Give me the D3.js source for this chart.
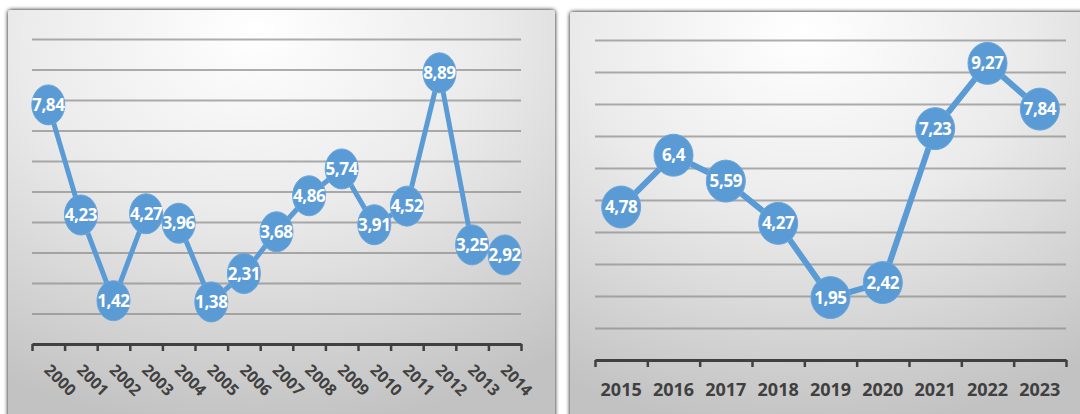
<!DOCTYPE html>
<html>
<head>
<meta charset="utf-8">
<script src="https://cdn.jsdelivr.net/npm/d3@7"></script>
<style>
  body { margin: 0; background: #fff; }
  svg { display: block; }
</style>
</head>
<body>
<div id="chart"></div>
<script>
// data
var years1 = ["2000", "2001", "2002", "2003", "2004", "2005", "2006", "2007", "2008", "2009", "2010", "2011", "2012", "2013", "2014"];
var values1 = [7.84, 4.23, 1.42, 4.27, 3.96, 1.38, 2.31, 3.68, 4.86, 5.74, 3.91, 4.52, 8.89, 3.25, 2.92];

var years2 = ["2015", "2016", "2017", "2018", "2019", "2020", "2021", "2022", "2023"];
var values2 = [4.78, 6.4, 5.59, 4.27, 1.95, 2.42, 7.23, 9.27, 7.84];

var gridValues = [1, 2, 3, 4, 5, 6, 7, 8, 9, 10];

var W = 1080, H = 414;
var blue = "#5b9bd5";

var svg = d3.select("#chart")
    .append("svg")
    .attr("width", W)
    .attr("height", H);

var defs = svg.append("defs");

var bg = defs.append("radialGradient")
    .attr("id", "panelBg")
    .attr("cx", "45%")
    .attr("cy", "5%")
    .attr("r", "95%");
bg.append("stop").attr("offset", "0%").attr("stop-color", "#ffffff");
bg.append("stop").attr("offset", "45%").attr("stop-color", "#ebebeb");
bg.append("stop").attr("offset", "100%").attr("stop-color", "#c2c2c2");

var shadow = defs.append("filter")
    .attr("id", "shadow")
    .attr("x", "-5%").attr("y", "-5%")
    .attr("width", "110%").attr("height", "110%");
shadow.append("feGaussianBlur")
    .attr("in", "SourceAlpha")
    .attr("stdDeviation", 2);
shadow.append("feOffset").attr("dx", 0).attr("dy", 0).attr("result", "b");
var merge = shadow.append("feMerge");
merge.append("feMergeNode").attr("in", "b");
merge.append("feMergeNode").attr("in", "SourceGraphic");

function drawPanel(cfg) {
    var g = svg.append("g");

    g.append("rect")
        .attr("x", cfg.box[0])
        .attr("y", cfg.box[1])
        .attr("width", cfg.box[2])
        .attr("height", cfg.box[3])
        .attr("rx", 3)
        .attr("fill", "url(#panelBg)")
        .attr("filter", "url(#shadow)");

    var x = d3.scaleBand()
        .domain(cfg.years)
        .range([cfg.left, cfg.right]);

    var edge = d3.scaleLinear()
        .domain([0, cfg.years.length])
        .range([cfg.left, cfg.right]);

    var y = d3.scaleLinear()
        .domain([0, 10])
        .range([cfg.bottom, cfg.top]);

    // gridlines
    g.append("g")
        .attr("transform", "translate(" + cfg.left + ",0)")
        .call(d3.axisLeft(y)
            .tickValues(gridValues)
            .tickSize(-(cfg.right - cfg.left))
            .tickFormat(""))
        .call(function (a) { a.select(".domain").remove(); })
        .selectAll("line")
        .attr("stroke", "#8c8c8c")
        .attr("stroke-opacity", 0.7)
        .attr("stroke-width", 2);

    // x axis with ticks between categories
    var ax = g.append("g")
        .attr("transform", "translate(0," + cfg.bottom + ")")
        .call(d3.axisBottom(edge)
            .tickValues(d3.range(cfg.years.length + 1))
            .tickSizeInner(7)
            .tickSizeOuter(0)
            .tickFormat(""));
    ax.select(".domain")
        .attr("stroke", "#404040")
        .attr("stroke-width", 3);
    ax.selectAll(".tick line")
        .attr("stroke", "#404040")
        .attr("stroke-width", 2.5);

    // category labels
    var lbl = g.append("g").selectAll("text")
        .data(cfg.years)
        .join("text")
        .text(function (d) { return d; })
        .attr("fill", "#404040")
        .attr("font-family", "'Open Sans', sans-serif")
        .attr("font-weight", "bold")
        .attr("font-size", cfg.tickFont);
    if (cfg.rotate) {
        lbl.attr("text-anchor", "start")
            .attr("transform", function (d) {
                return "translate(" + (x(d) + x.bandwidth() / 2 - 5) + "," + (cfg.bottom + 27) + ") rotate(45)";
            });
    } else {
        lbl.attr("text-anchor", "middle")
            .attr("x", function (d) { return x(d) + x.bandwidth() / 2; })
            .attr("y", cfg.bottom + 36);
    }

    var pts = cfg.values.map(function (v, i) {
        return { year: cfg.years[i], value: v };
    });

    var line = d3.line()
        .x(function (d) { return x(d.year) + x.bandwidth() / 2; })
        .y(function (d) { return y(d.value); });

    g.append("path")
        .datum(pts)
        .attr("d", line)
        .attr("fill", "none")
        .attr("stroke", blue)
        .attr("stroke-width", cfg.lineWidth)
        .attr("stroke-linejoin", "round");

    g.append("g").selectAll("ellipse")
        .data(pts)
        .join("ellipse")
        .attr("cx", function (d) { return x(d.year) + x.bandwidth() / 2; })
        .attr("cy", function (d) { return y(d.value); })
        .attr("rx", cfg.rx)
        .attr("ry", cfg.ry)
        .attr("fill", blue)
        .attr("stroke", "#6aa6dc")
        .attr("stroke-width", 1);

    g.append("g").selectAll("text")
        .data(pts)
        .join("text")
        .attr("x", function (d) { return x(d.year) + x.bandwidth() / 2; })
        .attr("y", function (d) { return y(d.value); })
        .attr("dy", "0.36em")
        .attr("text-anchor", "middle")
        .attr("fill", "#ffffff")
        .attr("font-family", "'Open Sans', sans-serif")
        .attr("font-weight", "bold")
        .attr("font-size", 17)
        .attr("letter-spacing", -0.4)
        .text(function (d) { return String(d.value).replace(".", ","); });
}

drawPanel({
    box: [8, 10, 547, 420],
    years: years1, values: values1,
    left: 32, right: 521, top: 39, bottom: 344,
    rotate: true, tickFont: 16,
    lineWidth: 5, rx: 16.5, ry: 20
});

drawPanel({
    box: [570, 12, 520, 420],
    years: years2, values: values2,
    left: 595, right: 1066, top: 40, bottom: 360,
    rotate: false, tickFont: 18,
    lineWidth: 6, rx: 19.5, ry: 21
});
</script>
</body>
</html>
